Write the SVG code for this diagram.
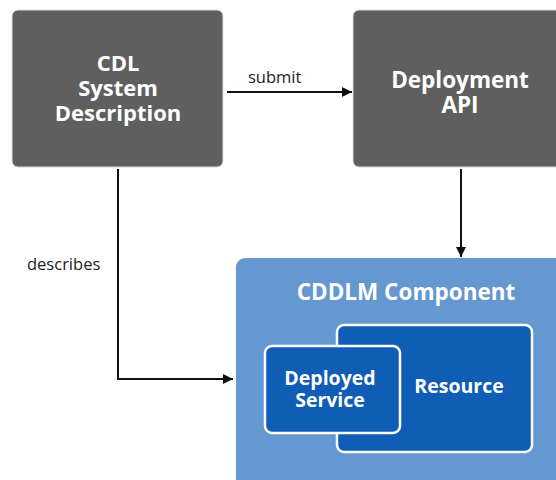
<svg xmlns="http://www.w3.org/2000/svg" width="556" height="480" viewBox="0 0 556 480">
<defs>
<marker id="arr" viewBox="0 0 10 10" refX="10" refY="5" markerWidth="10" markerHeight="10" markerUnits="userSpaceOnUse" orient="auto">
<path d="M0,0 L10,5 L0,10 z" fill="#111"/>
</marker>
</defs>
<style>
.gray{fill:#5f5f5f;stroke:#dcdcdc;stroke-width:1}
.big{fill:#6597d0}
.inner{fill:#0f5db5;stroke:#fff;stroke-width:2.5}
.t{font-family:"Open Sans","Noto Sans",sans-serif;font-weight:bold;fill:#fff;text-anchor:middle}
.lbl{font-family:"Open Sans","Noto Sans",sans-serif;font-size:16.5px;fill:#222}
.con{fill:none;stroke:#111;stroke-width:2}
</style>
<rect width="556" height="480" fill="#fff"/>
<g id="cdl">
<rect class="gray" x="12" y="10" width="211" height="157" rx="6"/>
<text class="t" font-size="22" x="118" y="71">CDL</text>
<text class="t" font-size="22" x="118" y="96">System</text>
<text class="t" font-size="22" x="118" y="121">Description</text>
</g>
<g id="api">
<rect class="gray" x="353" y="10" width="210" height="157" rx="6"/>
<text class="t" font-size="22.5" x="460" y="88">Deployment</text>
<text class="t" font-size="22.5" x="460" y="113">API</text>
</g>
<g id="cddlm">
<rect class="big" x="236" y="258" width="330" height="240" rx="9"/>
<text class="t" font-size="22.5" x="406" y="300">CDDLM Component</text>
</g>
<g id="resource">
<rect class="inner" x="337" y="325" width="195" height="127" rx="7"/>
<text class="t" font-size="19.5" x="459" y="393">Resource</text>
</g>
<g id="service">
<rect class="inner" x="265" y="346" width="135" height="87" rx="7"/>
<text class="t" font-size="19.5" x="330" y="385">Deployed</text>
<text class="t" font-size="19.5" x="330" y="407">Service</text>
</g>
<g id="connectors">
<path class="con" d="M227,92 L352,92" marker-end="url(#arr)"/>
<path class="con" d="M461,169 L461,257" marker-end="url(#arr)"/>
<path class="con" d="M118,169 L118,379 L233,379" marker-end="url(#arr)"/>
<text class="lbl" x="248" y="83">submit</text>
<text class="lbl" x="27" y="270">describes</text>
</g>
</svg>
